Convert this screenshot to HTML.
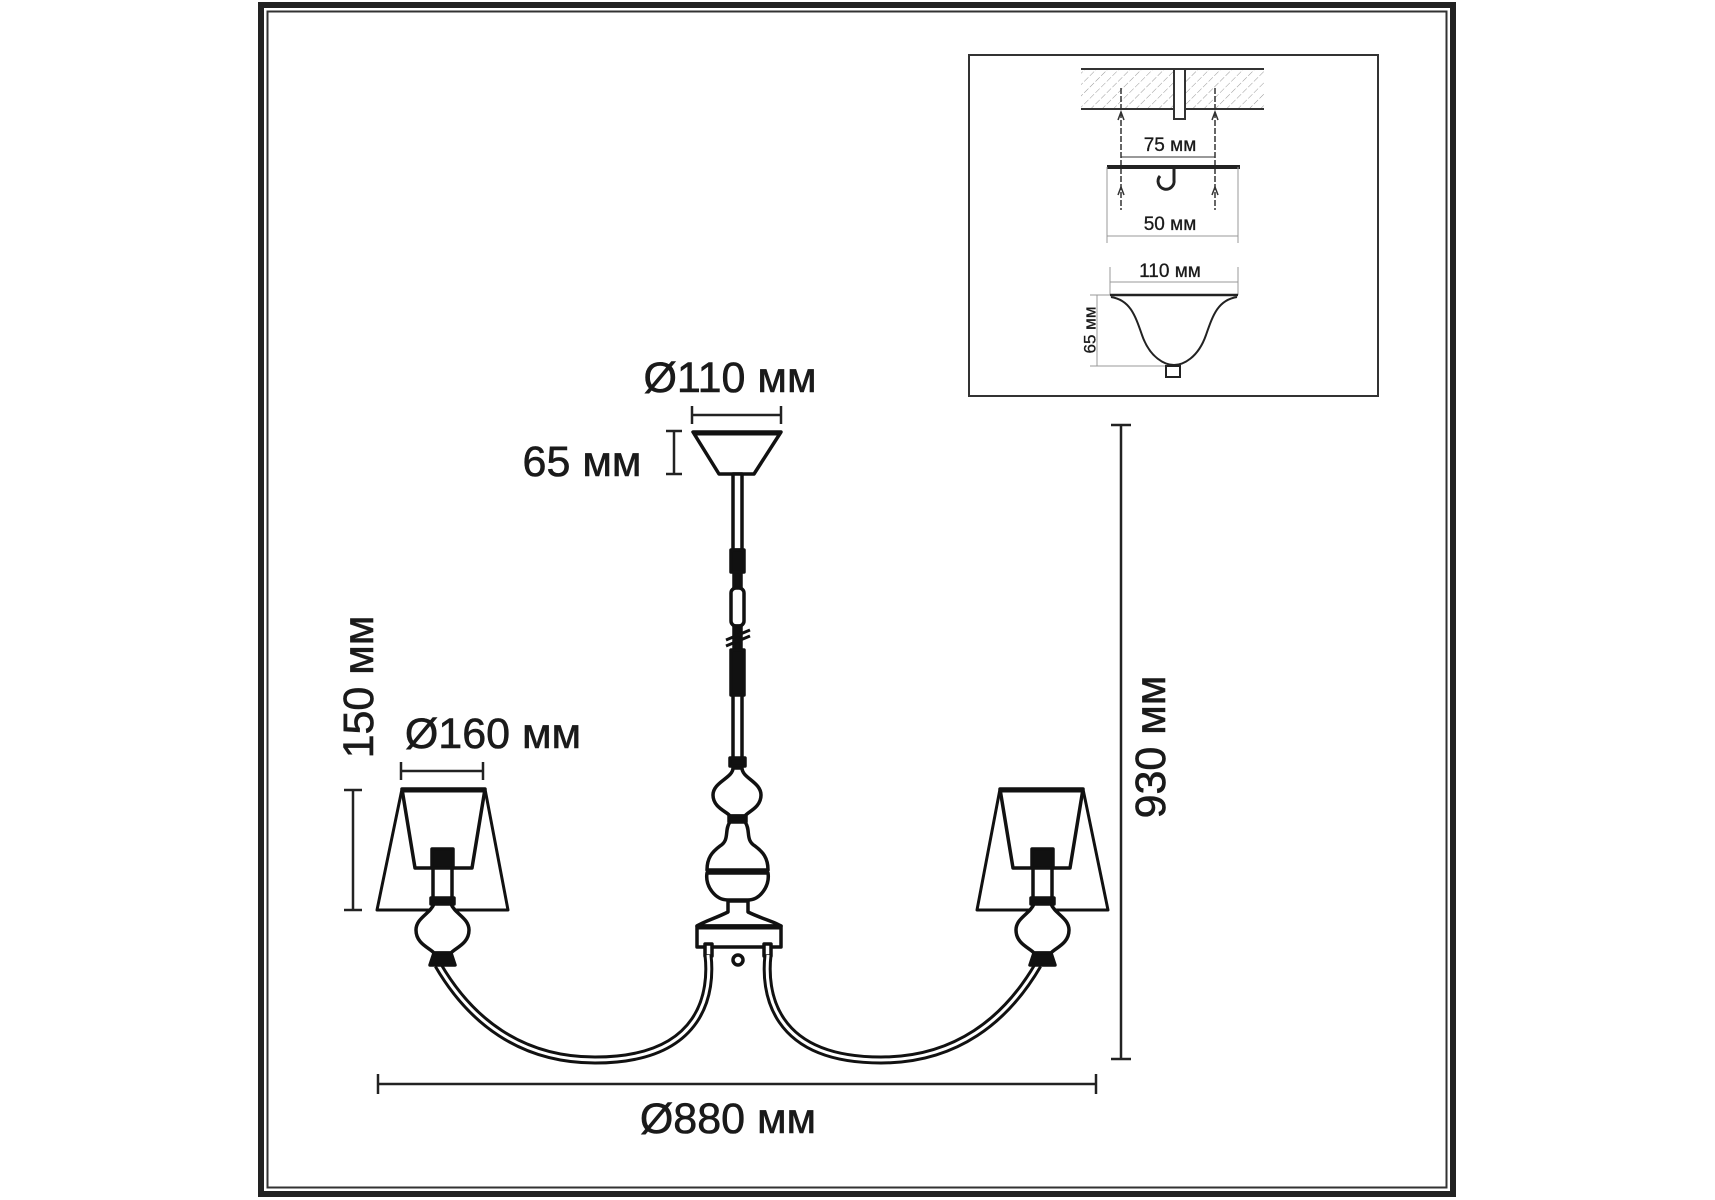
<!DOCTYPE html>
<html><head><meta charset="utf-8"><style>
html,body{margin:0;padding:0;background:#fff;}
svg{display:block;}
text{font-family:"Liberation Sans",sans-serif;fill:#1a1a1a;stroke:#1a1a1a;stroke-width:0.6;}
</style></head><body>
<svg width="1715" height="1200" viewBox="0 0 1715 1200" xmlns="http://www.w3.org/2000/svg">
<defs>
<pattern id="h" width="8" height="8" patternUnits="userSpaceOnUse" patternTransform="rotate(45)">
<line x1="0" y1="0" x2="0" y2="8" stroke="#999" stroke-width="1" stroke-dasharray="3,2"/>
</pattern>
</defs>
<rect width="1715" height="1200" fill="#fff"/>
<!-- frame -->
<rect x="261" y="5" width="1192" height="1189" fill="none" stroke="#222" stroke-width="6"/>
<rect x="267.5" y="11.5" width="1179" height="1176" fill="none" stroke="#333" stroke-width="2"/>

<!-- inset -->
<rect x="969" y="55" width="409" height="341" fill="none" stroke="#333" stroke-width="2"/>
<g stroke="#333" fill="none">
<rect x="1081" y="69" width="183" height="40" fill="url(#h)" stroke="none"/>
<line x1="1081" y1="69" x2="1264" y2="69" stroke-width="2"/>
<line x1="1081" y1="109" x2="1264" y2="109" stroke-width="2"/>
<rect x="1174" y="69" width="11" height="50" fill="#fff" stroke-width="2"/>
<line x1="1121" y1="88" x2="1121" y2="210" stroke-width="1.5" stroke-dasharray="6,2"/>
<line x1="1215" y1="88" x2="1215" y2="210" stroke-width="1.5" stroke-dasharray="6,2"/>
<path d="M1118 120 l3 -8 l3 8 M1212 120 l3 -8 l3 8 M1118 195 l3 -8 l3 8 M1212 195 l3 -8 l3 8" stroke-width="1.5"/>
<line x1="1121" y1="157" x2="1215" y2="157" stroke-width="1"/>
<line x1="1107" y1="167" x2="1240" y2="167" stroke-width="4" stroke="#222"/>
<path d="M1174 169 L1174 180 A8 8 0 1 1 1160 176" stroke-width="3" stroke="#222"/>
<line x1="1107" y1="167" x2="1107" y2="243" stroke-width="1" stroke="#999"/>
<line x1="1238" y1="167" x2="1238" y2="243" stroke-width="1" stroke="#999"/>
<line x1="1107" y1="236" x2="1238" y2="236" stroke-width="1" stroke="#999"/>
<line x1="1110" y1="267" x2="1110" y2="295" stroke-width="1" stroke="#999"/>
<line x1="1238" y1="267" x2="1238" y2="295" stroke-width="1" stroke="#999"/>
<line x1="1110" y1="282" x2="1238" y2="282" stroke-width="1" stroke="#999"/>
<line x1="1110" y1="295" x2="1238" y2="295" stroke-width="2.5" stroke="#222"/>
<path d="M1111 297 C1130 300,1135 315,1142 335 C1150 358,1165 365,1174 365 C1183 365,1198 358,1206 335 C1213 315,1218 300,1237 297" stroke-width="2" stroke="#222"/>
<rect x="1166" y="366" width="14" height="11" stroke-width="2" stroke="#222" fill="#fff"/>
<line x1="1097" y1="295" x2="1097" y2="366" stroke-width="1" stroke="#999"/>
<line x1="1090" y1="295" x2="1110" y2="295" stroke-width="1" stroke="#999"/>
<line x1="1090" y1="366" x2="1165" y2="366" stroke-width="1" stroke="#999"/>
</g>
<text x="1170" y="151" font-size="19" text-anchor="middle" style="stroke-width:0.3">75 мм</text>
<text x="1170" y="230" font-size="19" text-anchor="middle" style="stroke-width:0.3">50 мм</text>
<text x="1170" y="277" font-size="19" text-anchor="middle" style="stroke-width:0.3">110 мм</text>
<text transform="translate(1091,330) rotate(-90)" font-size="17" text-anchor="middle" dominant-baseline="middle" style="stroke-width:0.3">65 мм</text>

<!-- main dims -->
<g stroke="#222" stroke-width="2.5" fill="none">
<line x1="692" y1="415" x2="781" y2="415"/><line x1="692" y1="406" x2="692" y2="424"/><line x1="781" y1="406" x2="781" y2="424"/>
<line x1="674" y1="431" x2="674" y2="474"/><line x1="666" y1="431" x2="682" y2="431"/><line x1="666" y1="474" x2="682" y2="474"/>
<line x1="401" y1="771" x2="483" y2="771"/><line x1="401" y1="762" x2="401" y2="780"/><line x1="483" y1="762" x2="483" y2="780"/>
<line x1="353" y1="790" x2="353" y2="910"/><line x1="344" y1="790" x2="362" y2="790"/><line x1="344" y1="910" x2="362" y2="910"/>
<line x1="378" y1="1084" x2="1096" y2="1084"/><line x1="378" y1="1074" x2="378" y2="1094"/><line x1="1096" y1="1074" x2="1096" y2="1094"/>
<line x1="1121" y1="425" x2="1121" y2="1059"/><line x1="1111" y1="425" x2="1131" y2="425"/><line x1="1111" y1="1059" x2="1131" y2="1059"/>
</g>
<text x="730" y="392" font-size="43" text-anchor="middle">Ø110 мм</text>
<text x="582" y="476" font-size="43" text-anchor="middle">65 мм</text>
<text x="493" y="748" font-size="43" text-anchor="middle">Ø160 мм</text>
<text transform="translate(373,687) rotate(-90)" font-size="43" text-anchor="middle">150 мм</text>
<text x="728" y="1133" font-size="43" text-anchor="middle">Ø880 мм</text>
<text transform="translate(1165,747) rotate(-90)" font-size="43" text-anchor="middle">930 мм</text>

<!-- chandelier -->
<g stroke="#111" stroke-width="3.5" fill="#fff" stroke-linejoin="round">
<path d="M693 432 L781 432 L754 474 L719 474 Z"/>
<line x1="693" y1="433" x2="781" y2="433" stroke-width="5"/>
<rect x="733" y="474" width="9" height="76"/>
<rect x="731" y="550" width="13" height="22" fill="#111"/>
<rect x="734" y="572" width="7" height="16" fill="#111"/>
<rect x="731" y="588" width="13" height="38" rx="5"/>
<rect x="734" y="626" width="7" height="24" fill="#111"/>
<line x1="726" y1="640" x2="750" y2="630" stroke-width="3"/>
<line x1="726" y1="646" x2="750" y2="636" stroke-width="3"/>
<rect x="731" y="650" width="13" height="45" fill="#111"/>
<rect x="733" y="695" width="9" height="65"/>
<rect x="730" y="758" width="15" height="8" fill="#111"/>
<path d="M733 768 C733 778,713 782,713 795 C713 808,728 812,730 816 L745 816 C747 812,761 808,761 795 C761 782,742 778,742 768 Z"/>
<rect x="729" y="816" width="17" height="6" fill="#111"/>
<path d="M730 822 C724 830,730 840,720 846 C712 852,707 858,707 870 L768 870 C768 858,763 852,755 846 C745 840,751 830,745 822 Z"/>
<path d="M707 873 C705 886,715 900,728 900 L748 900 C760 900,770 886,768 873 Z"/>
<line x1="707" y1="872" x2="768" y2="872" stroke-width="5"/>
<path d="M728 901 L748 901 L748 912 C760 918,775 922,781 926 L697 926 C703 922,716 918,728 912 Z"/>
<rect x="697" y="926" width="84" height="21"/>
<line x1="697" y1="927" x2="781" y2="927" stroke-width="5"/>
<rect x="705" y="944" width="7" height="12"/><rect x="764" y="944" width="7" height="12"/>
<circle cx="738" cy="960" r="5"/>
<!-- arms -->
<path d="M708 955 C712 990,705 1060,595 1060 C520 1060,470 1020,438 965" fill="none" stroke-width="9"/>
<path d="M708 955 C712 990,705 1060,595 1060 C520 1060,470 1020,438 965" fill="none" stroke="#fff" stroke-width="3"/>
<path d="M768 955 C764 990,771 1060,881 1060 C956 1060,1006 1020,1038 965" fill="none" stroke-width="9"/>
<path d="M768 955 C764 990,771 1060,881 1060 C956 1060,1006 1020,1038 965" fill="none" stroke="#fff" stroke-width="3"/>
</g>
<!-- lamps -->
<g id="lamp" stroke="#111" stroke-width="3.5" fill="#fff" stroke-linejoin="round">
<path d="M402 789 L485 789 L508 910 L377 910 Z" stroke-width="3"/>
<path d="M402 789 L485 789 L472 868 L415 868 Z"/>
<line x1="402" y1="790" x2="485" y2="790" stroke-width="5"/>
<rect x="432" y="849" width="21" height="19" fill="#111"/>
<rect x="433" y="868" width="19" height="34"/>
<rect x="431" y="898" width="23" height="6" fill="#111"/>
<path d="M434 904 C430 914,416 918,416 930 C416 944,430 948,434 953 L451 953 C455 948,469 944,469 930 C469 918,455 914,451 904 Z"/>
<path d="M434 953 L451 953 L455 965 L430 965 Z" fill="#111"/>
</g>
<use href="#lamp" transform="translate(1485,0) scale(-1,1)"/>
</svg>
</body></html>
